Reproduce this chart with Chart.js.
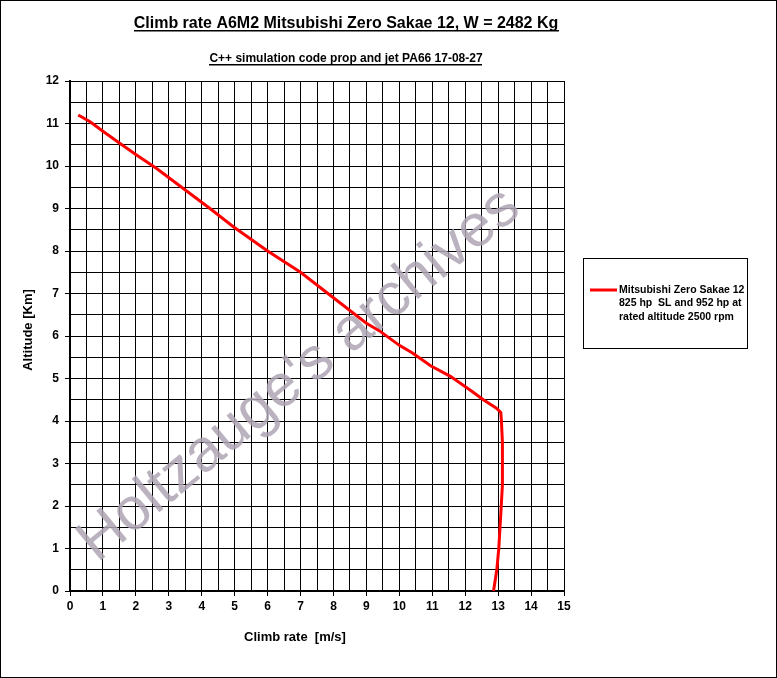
<!DOCTYPE html>
<html>
<head>
<meta charset="utf-8">
<script src="https://cdn.jsdelivr.net/npm/chart.js@4.4.0/dist/chart.umd.min.js"></script>
<style>
  body { margin: 0; background: #fff; }
  canvas { display: block; }
</style>
</head>
<body>
<canvas id="myChart" width="777" height="678"></canvas>
<script>
// 데이터
var climbRate = [12.86, 12.96, 13.02, 13.08, 13.13, 13.14, 13.12, 13.10, 13.08, 12.95, 12.55, 12.20, 11.55, 10.95, 10.40, 10.00, 9.40, 9.00, 7.90, 7.00, 6.00, 4.96, 4.25, 3.44, 2.63, 2.02, 1.52, 1.01, 0.61, 0.25];
var altitude  = [0.00, 0.50, 1.00, 1.80, 2.50, 3.00, 3.50, 4.00, 4.20, 4.30, 4.50, 4.70, 5.05, 5.30, 5.60, 5.78, 6.12, 6.30, 6.96, 7.50, 8.00, 8.57, 9.00, 9.47, 9.94, 10.26, 10.53, 10.81, 11.04, 11.20];
var seriesLabel = ['Mitsubishi Zero Sakae 12', '825 hp  SL and 952 hp at', 'rated altitude 2500 rpm'];
var xTicks = [0, 15];
var yTicks = [0, 12];

var mainTitle = 'Climb rate A6M2 Mitsubishi Zero Sakae 12, W = 2482 Kg';
var subTitle = 'C++ simulation code prop and jet PA66 17-08-27';
var xTitle = 'Climb rate  [m/s]';
var yTitle = 'Altitude [Km]';
var watermark = "Holtzauge's archives";

var points = climbRate.map(function (v, i) { return { x: v, y: altitude[i] }; });

var FONT = '"Liberation Sans", Arial, sans-serif';

function underlined(ctx, text, cx, y, font) {
    ctx.font = font;
    ctx.textAlign = 'center';
    ctx.textBaseline = 'alphabetic';
    ctx.fillText(text, cx, y);
    var w = ctx.measureText(text).width;
    ctx.fillRect(Math.round(cx - w / 2), y + 2, Math.round(w), 1.5);
}

// 제목, 축 제목, 범례, 워터마크 그리기
var extras = {
    id: 'extras',
    beforeDatasetsDraw: function (chart) {
        var ctx = chart.ctx;
        ctx.save();
        ctx.translate(310, 388);
        ctx.rotate(-39.5 * Math.PI / 180);
        ctx.font = '60px ' + FONT;
        ctx.fillStyle = 'rgba(175, 165, 180, 0.85)';
        ctx.textAlign = 'center';
        ctx.textBaseline = 'alphabetic';
        ctx.fillText(watermark, 0, 0);
        ctx.restore();
    },
    afterDraw: function (chart) {
        var ctx = chart.ctx;
        ctx.save();
        ctx.fillStyle = '#000';
        underlined(ctx, mainTitle, 346, 28, 'bold 16px ' + FONT);
        underlined(ctx, subTitle, 346, 62, 'bold 12px ' + FONT);

        ctx.font = 'bold 13px ' + FONT;
        ctx.textAlign = 'center';
        ctx.textBaseline = 'middle';
        ctx.fillText(xTitle, 295, 637);
        ctx.save();
        ctx.translate(28, 330);
        ctx.rotate(-Math.PI / 2);
        ctx.fillText(yTitle, 0, 0);
        ctx.restore();

        // 범례 상자
        ctx.strokeStyle = '#000';
        ctx.lineWidth = 1;
        ctx.strokeRect(583.5, 258.5, 164, 90);
        ctx.strokeStyle = '#ff0000';
        ctx.lineWidth = 3;
        ctx.beginPath();
        ctx.moveTo(590, 290);
        ctx.lineTo(617, 290);
        ctx.stroke();
        ctx.font = 'bold 10.5px ' + FONT;
        ctx.textAlign = 'left';
        ctx.textBaseline = 'middle';
        seriesLabel.forEach(function (t, i) {
            ctx.fillText(t, 619, 290 + i * 13.5);
        });

        // 바깥 테두리
        ctx.strokeStyle = '#000';
        ctx.lineWidth = 1;
        ctx.strokeRect(0.5, 0.5, 776, 677);
        ctx.restore();
    }
};

function tickCol(c) {
    return Number.isInteger(c.tick.value) ? '#000' : 'rgba(0,0,0,0)';
}

var ctx = document.getElementById('myChart');
var myChart = new Chart(ctx, {
    type: 'scatter',
    data: {
        datasets: [{
            label: seriesLabel.join(' '),
            data: points,
            showLine: true,
            borderColor: '#ff0000',
            backgroundColor: '#ff0000',
            borderWidth: 3,
            pointRadius: 0,
            tension: 0
        }]
    },
    options: {
        responsive: false,
        animation: false,
        layout: { padding: { top: 81, left: 0, right: 213, bottom: 0 } },
        plugins: { legend: { display: false }, tooltip: { enabled: false } },
        scales: {
            x: {
                type: 'linear',
                min: xTicks[0], max: xTicks[1],
                afterFit: function (s) { s.height = 87; },
                ticks: {
                    stepSize: 0.5, autoSkip: false, maxRotation: 0,
                    color: '#000', padding: 3,
                    font: { family: FONT, size: 12, weight: 'bold' },
                    callback: function (v) { return Number.isInteger(v) ? v : ''; }
                },
                grid: { color: '#000', lineWidth: 1, tickLength: 5, tickColor: tickCol },
                border: { color: '#000', width: 2 }
            },
            y: {
                type: 'linear',
                min: yTicks[0], max: yTicks[1],
                afterFit: function (s) { s.width = 70; },
                ticks: {
                    stepSize: 0.5, autoSkip: false,
                    color: '#000', padding: 6,
                    font: { family: FONT, size: 12, weight: 'bold' },
                    callback: function (v) { return Number.isInteger(v) ? v : ''; }
                },
                grid: { color: '#000', lineWidth: 1, tickLength: 5, tickColor: tickCol },
                border: { color: '#000', width: 2 }
            }
        }
    },
    plugins: [extras]
});
</script>
</body>
</html>
